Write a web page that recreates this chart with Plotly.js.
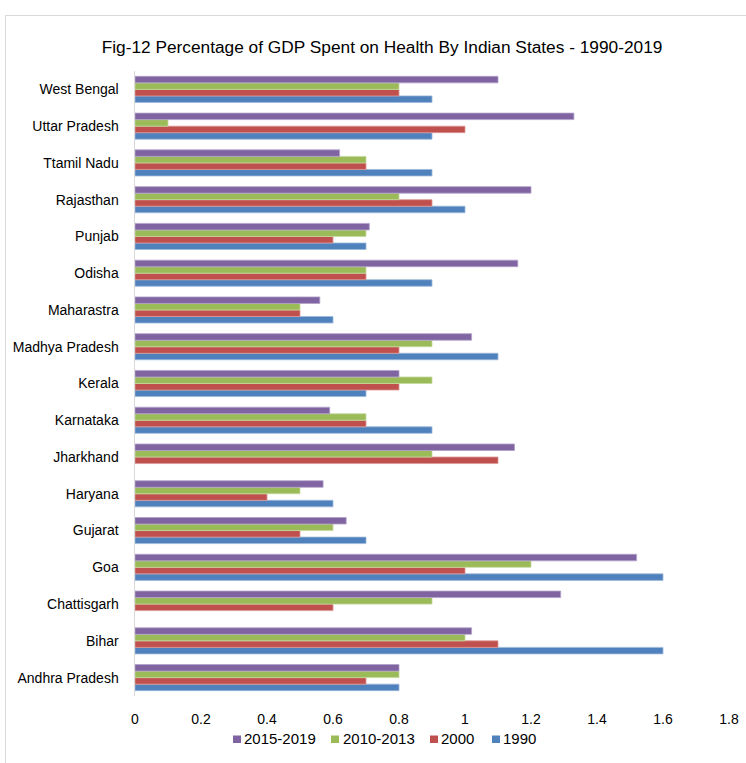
<!DOCTYPE html>
<html><head><meta charset="utf-8">
<script src="https://cdn.plot.ly/plotly-3.0.1.min.js"></script>
<style>
html,body{margin:0;padding:0;background:#fff;}
#wrap{position:relative;width:746px;height:763px;overflow:hidden;}
#frame{position:absolute;left:5px;top:15px;width:760px;height:780px;border-left:1.5px solid #d9d9d9;border-top:1.5px solid #d9d9d9;pointer-events:none;}
#chart{position:absolute;left:0;top:0;width:746px;height:763px;}
</style></head>
<body><div id="wrap"><div id="chart"></div><div id="frame"></div></div>
<script>
const states = ["Andhra Pradesh","Bihar","Chattisgarh","Goa","Gujarat","Haryana","Jharkhand","Karnataka","Kerala","Madhya Pradesh","Maharastra","Odisha","Punjab","Rajasthan","Ttamil Nadu","Uttar Pradesh","West Bengal"];
const seriesNames = ["1990","2000","2010-2013","2015-2019"];
const v1990 = [0.8,1.6,null,1.6,0.7,0.6,null,0.9,0.7,1.1,0.6,0.9,0.7,1.0,0.9,0.9,0.9];
const v2000 = [0.7,1.1,0.6,1.0,0.5,0.4,1.1,0.7,0.8,0.8,0.5,0.7,0.6,0.9,0.7,1.0,0.8];
const v2010 = [0.8,1.0,0.9,1.2,0.6,0.5,0.9,0.7,0.9,0.9,0.5,0.7,0.7,0.8,0.7,0.1,0.8];
const v2015 = [0.8,1.02,1.29,1.52,0.64,0.57,1.15,0.59,0.8,1.02,0.56,1.16,0.71,1.2,0.62,1.33,1.1];
const xTicks = [0,0.2,0.4,0.6,0.8,1,1.2,1.4,1.6,1.8];

const colors = ["#4F81BD","#C0504D","#9BBB59","#8064A2"];
const lines = ["#9db8da","#dc9896","#c5d99e","#b3a2c9"];
const vals = [v1990,v2000,v2010,v2015];
const font = "Liberation Sans, Arial, sans-serif";

const data = seriesNames.map((n,i)=>({
  type:'bar', orientation:'h', name:n, y:states, x:vals[i],
  marker:{color:colors[i], line:{color:lines[i], width:0.8}},
  hoverinfo:'x+y+name', showlegend:false
}));

// legend entries (order as in reference): squares as shapes, labels as annotations
const L = 135, W = 594, B = 696, H = 625;
const px = v => (v - L) / W, py = v => (B - v) / H;
const legendOrder = [3,2,1,0];
const sqX = [233,331,430,492];
const txX = [242,341,439,501];
const shapes = legendOrder.map((si,k)=>({
  type:'rect', xref:'paper', yref:'paper', x0:px(sqX[k]), x1:px(sqX[k]+8), y0:py(743), y1:py(735.5),
  fillcolor:colors[si], line:{width:0}
}));
const annotations = legendOrder.map((si,k)=>({
  xref:'paper', yref:'paper', x:px(txX[k]), y:py(738), xanchor:'left', yanchor:'middle',
  showarrow:false, text:seriesNames[si], font:{family:font, size:15, color:'#000'}
}));

const layout = {
  width:746, height:763,
  margin:{l:L, r:746-L-W, t:71, b:763-B},
  paper_bgcolor:'rgba(0,0,0,0)', plot_bgcolor:'rgba(0,0,0,0)',
  barmode:'group', bargap:0.29, bargroupgap:0,
  title:{text:"Fig-12 Percentage of GDP Spent on Health By Indian States - 1990-2019",
    font:{family:font, size:17.3, color:'#000'}, x:382/746, xref:'container', xanchor:'center', y:0.938, yanchor:'middle'},
  xaxis:{range:[0,1.8], tickvals:xTicks, ticktext:xTicks.map(String), showgrid:false, zeroline:false,
    showline:false, ticks:'', ticklabelstandoff:13, tickfont:{family:font, size:14, color:'#000'}, fixedrange:true},
  yaxis:{type:'category', categoryorder:'array', categoryarray:states, showgrid:false, zeroline:false,
    showline:true, linecolor:'#d9d9d9', linewidth:1.5, ticks:'', ticklabelstandoff:12,
    tickfont:{family:font, size:14, color:'#000'}, fixedrange:true},
  shapes:shapes,
  annotations:annotations,
  showlegend:false
};
Plotly.newPlot('chart', data, layout, {displayModeBar:false, staticPlot:true});
</script></body></html>
